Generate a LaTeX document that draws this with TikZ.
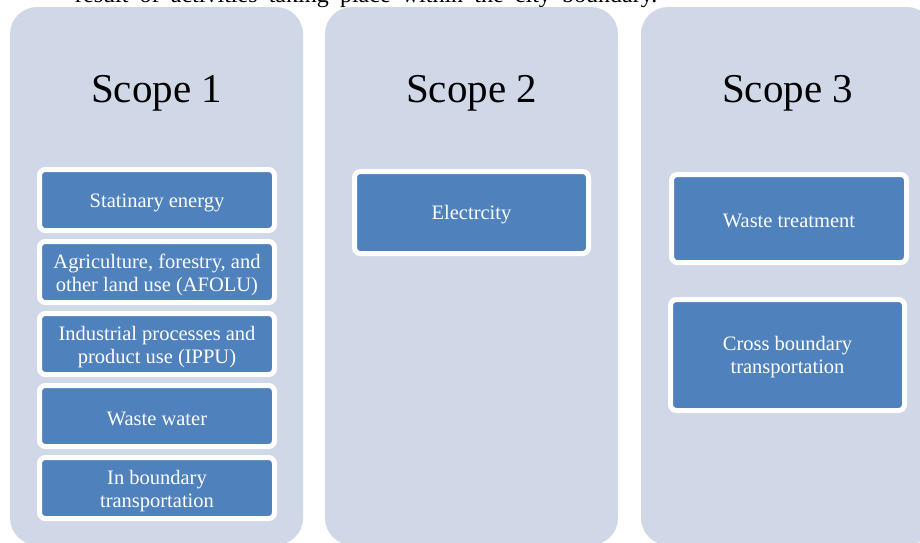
\documentclass[tikz,border=0pt]{standalone}
\usepackage{fontspec}
\setmainfont{Liberation Serif}
\begin{document}
\begin{tikzpicture}[x=1pt,y=-1pt,
  panel/.style={fill=panelfill, draw=none, rounded corners=27pt},
  item/.style={draw=white, line width=5pt, fill=itemblue, rounded corners=6pt,
    inner sep=0pt},
  itemtext/.style={inner sep=0pt, align=center, text=white,
    font=\fontsize{20.5}{22.5}\selectfont},
  title/.style={anchor=base, inner sep=0pt, font=\fontsize{41}{46}\selectfont}]
\definecolor{panelfill}{RGB}{208,216,232}
\definecolor{itemblue}{RGB}{79,129,189}
\useasboundingbox (0,0) rectangle (920,542);
\clip (0,0) rectangle (920,542);
\node[anchor=base west, inner sep=0pt, font=\fontsize{24}{28}\selectfont] (intro) at (75,2.5)
  {\makebox[582pt][s]{result of activities taking place within the city boundary.}};
\path[panel] (10,7) rectangle (303,545);
\path[panel] (325,7) rectangle (618,545);
\path[panel] (641,7) rectangle (934,545);
\node[title] (s1) at (156.5,102) {Scope 1};
\node[title] (s2) at (471.5,102) {Scope 2};
\node[title] (s3) at (787.5,102) {Scope 3};
% Scope 1 items
\node[item, minimum width=235pt, minimum height=61pt] (a1) at (157,200) {};
\node[item, minimum width=235pt, minimum height=61pt] (a2) at (157,272) {};
\node[item, minimum width=235pt, minimum height=61pt] (a3) at (157,344) {};
\node[item, minimum width=235pt, minimum height=61pt] (a4) at (157,416) {};
\node[item, minimum width=235pt, minimum height=61pt] (a5) at (157,488) {};
\node[itemtext] (a1t) at ([yshift=-3pt]a1.center) {Statinary energy};
\node[itemtext] (a2t) at ([yshift=-3pt]a2.center) {Agriculture, forestry, and\\other land use (AFOLU)};
\node[itemtext] (a3t) at ([yshift=-3pt]a3.center) {Industrial processes and\\product use (IPPU)};
\node[itemtext] (a4t) at ([yshift=-3pt]a4.center) {Waste water};
\node[itemtext] (a5t) at ([yshift=-3pt]a5.center) {In boundary\\transportation};
% Scope 2 items
\node[item, minimum width=234pt, minimum height=82pt] (b1) at (471.5,212.5) {};
\node[itemtext] (b1t) at ([yshift=-2pt]b1.center) {Electrcity};
% Scope 3 items
\node[item, minimum width=235pt, minimum height=88pt] (c1) at (789,218.5) {};
\node[item, minimum width=234pt, minimum height=111pt] (c2) at (787.5,355) {};
\node[itemtext] (c1t) at ([yshift=-2pt]c1.center) {Waste treatment};
\node[itemtext] (c2t) at ([yshift=-2pt]c2.center) {Cross boundary\\transportation};
\end{tikzpicture}
\end{document}
